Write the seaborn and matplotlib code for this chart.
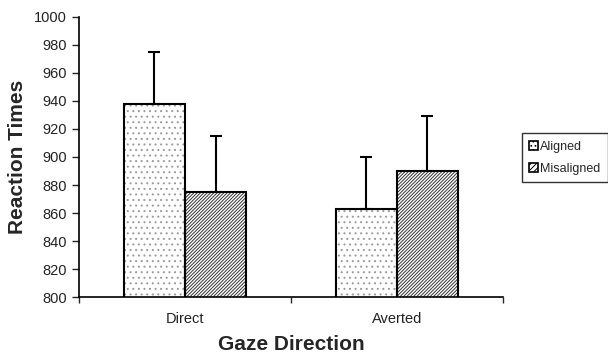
import numpy as np
import pandas as pd
import seaborn as sns
import matplotlib.pyplot as plt
from matplotlib.patches import Patch, Rectangle

gaze = ['Direct', 'Averted']
alignment = ['Aligned', 'Misaligned']
aligned_rt = [938, 863]
misaligned_rt = [875, 890]
aligned_err = [37, 37]
misaligned_err = [40, 39]

df = pd.DataFrame({
    'gaze': gaze * 2,
    'alignment': [alignment[0]] * 2 + [alignment[1]] * 2,
    'rt': aligned_rt + misaligned_rt,
})
errs = [aligned_err, misaligned_err]

sns.set_style('white')
plt.rcParams['font.family'] = ['Liberation Sans', 'DejaVu Sans']
plt.rcParams['hatch.linewidth'] = 0.7

fig = plt.figure(figsize=(6.08, 3.58), dpi=100)
ax = fig.add_axes([0.13, 0.17, 0.697, 0.783])

sns.barplot(data=df, x='gaze', y='rt', hue='alignment', order=gaze,
            hue_order=alignment, width=0.577, errorbar=None,
            palette=['white', 'white'], ax=ax, legend=False)

hatches = ['...', '//////////']
hatch_cols = ['#999999', '#333333']
bar_conts = list(ax.containers)
for k, cont in enumerate(bar_conts):
    for j, bar in enumerate(cont.patches):
        bar.set_hatch(hatches[k])
        bar.set_edgecolor(hatch_cols[k])
        bar.set_linewidth(0)
        ax.add_patch(Rectangle(bar.get_xy(), bar.get_width(), bar.get_height(),
                               fill=False, edgecolor='black', lw=1.5, zorder=3))
        xc = bar.get_x() + bar.get_width() / 2
        ax.errorbar(xc, bar.get_y() + bar.get_height(), yerr=[[0], [errs[k][j]]], fmt='none',
                    ecolor='black', elinewidth=1.5, capsize=4, capthick=1.5, zorder=2)

ax.set_ylim(800, 1000)
ax.set_yticks(np.arange(800, 1001, 20))
ax.set_xlim(-0.5, 1.5)
ax.set_xticks([-0.5, 0.5, 1.5])
ax.set_xticklabels([])
ax.set_xticks([0, 1], minor=True)
ax.set_xticklabels(gaze, minor=True)
ax.tick_params(axis='x', which='major', length=4, width=1, direction='out', bottom=True)
ax.tick_params(axis='x', which='minor', length=0, pad=11, labelsize=10.5, labelcolor='#222222')
ax.tick_params(axis='y', length=5, width=1, direction='out', left=True,
               labelsize=10.5, labelcolor='#222222')

for s in ['top', 'right']:
    ax.spines[s].set_visible(False)
for s in ['left', 'bottom']:
    ax.spines[s].set_color('black')
    ax.spines[s].set_linewidth(1.2)

ax.set_xlabel('Gaze Direction', fontsize=15, fontweight='bold', labelpad=6)
ax.set_ylabel('Reaction Times', fontsize=15, fontweight='bold', labelpad=5)

handles = [Patch(facecolor='white', edgecolor='black', hatch='....', lw=1.2, label=alignment[0]),
           Patch(facecolor='white', edgecolor='black', hatch='//////', lw=1.2, label=alignment[1])]
fig.legend(handles=handles, loc='center right', bbox_to_anchor=(1.0, 0.56),
           fontsize=9, frameon=True, fancybox=False, edgecolor='black',
           handlelength=0.7, handleheight=0.7, handletextpad=0.2,
           borderpad=0.6, labelspacing=0.8, borderaxespad=0.0)

fig.savefig('out.png', dpi=100)
